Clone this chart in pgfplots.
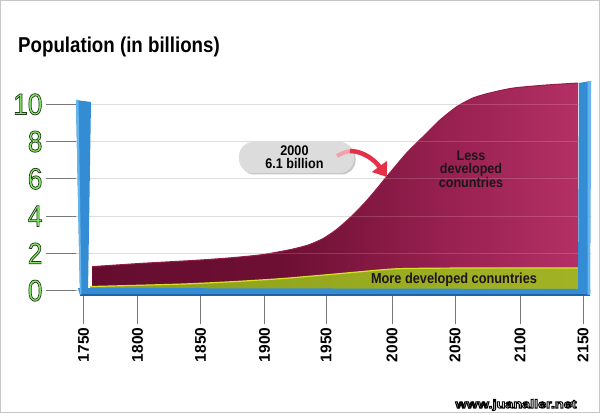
\documentclass[border=0pt]{standalone}
\usepackage{pgfplots}
\pgfplotsset{compat=1.18}
\usepackage{pgfplotstable}
\usepackage{fontspec}
\setmainfont{Liberation Sans}
\usetikzlibrary{arrows.meta}

\definecolor{ygreen}{RGB}{140,235,110}
\definecolor{tickgray}{RGB}{120,120,120}
\definecolor{gridgray}{RGB}{215,215,215}
\definecolor{pillar}{RGB}{52,140,212}
\definecolor{pillarlight}{RGB}{100,180,238}
\definecolor{pillardark}{RGB}{30,98,168}
\definecolor{maroonline}{RGB}{150,28,72}
\definecolor{greentop}{RGB}{215,225,45}
\definecolor{bubble}{RGB}{220,220,220}
\definecolor{arrowred}{RGB}{228,48,72}
\definecolor{labeldark}{RGB}{30,20,25}

\pgfdeclarehorizontalshading{maroonsh}{100bp}{rgb(0bp)=(0.36,0.04,0.16); rgb(45bp)=(0.43,0.06,0.20); rgb(62bp)=(0.60,0.13,0.32); rgb(82bp)=(0.76,0.22,0.43); rgb(100bp)=(0.66,0.13,0.33)}
\pgfdeclarehorizontalshading{greensh}{100bp}{rgb(0bp)=(0.50,0.57,0.08); rgb(60bp)=(0.61,0.68,0.13); rgb(100bp)=(0.67,0.74,0.17)}

% outlined text: #1 stroke width (bp), #2 stroke rgb (0..1 triple), #3 fill colour, #4 text
\newcommand\olt[4]{\textcolor{#3}{\special{pdf:literal direct 2 Tr #1 w #2 RG}#4\special{pdf:literal direct 0 Tr}}}

\pgfplotstableread{
year total
1756.9 1.29
1795.3 1.46
1840.2 1.63
1867.4 1.76
1893.0 1.93
1915.4 2.20
1930.0 2.45
1942.0 2.80
1953.0 3.30
1964.0 3.95
1975.0 4.70
1984.0 5.40
1992.8 6.12
2008.8 7.39
2021.9 8.26
2035.5 9.16
2048.9 9.87
2061.9 10.34
2075.5 10.61
2093.9 10.87
2119.5 11.03
2146.0 11.14
}\lesstable

\pgfplotstableread{
year more
1755.3 0.22
1827.3 0.35
1869.0 0.48
1907.4 0.64
1939.5 0.82
1961.1 0.95
1987.5 1.11
2003.5 1.18
2043.5 1.21
2149.0 1.22
}\moretable

\begin{document}
\begin{tikzpicture}[x=1pt,y=1pt]
\useasboundingbox (0,0) rectangle (600,413);
\fill[white] (0,0) rectangle (600,413);

\begin{axis}[
  at={(76pt,119pt)}, anchor=south west,
  scale only axis, width=515pt, height=194pt,
  xmin=1744, xmax=2156.4, ymin=-0.18, ymax=10.23,
  clip=false,
  axis line style={draw=none},
  xtick={1750,1793.2,1843.7,1894.9,1944.2,1997.1,2047.5,2099.5,2150},
  xticklabels={1750,1800,1850,1900,1950,2000,2050,2100,2150},
  ytick={0,2,4,6,8,10},
  xtick pos=bottom, ytick pos=left,
  tick align=outside, major tick length=30pt,
  tick style={draw=tickgray, line width=0.9pt},
  ymajorgrids, grid style={draw=gridgray, line width=0.7pt},
  /pgf/number format/assume math mode=true,
  xticklabel style={rotate=90, anchor=east, font=\fontsize{15.5}{15.5}\selectfont\bfseries, text=black},
  yticklabel style={font=\fontsize{30}{30}\selectfont},
  yticklabel={\scalebox{0.88}[1]{\olt{0.75}{0.12 0.22 0.10}{ygreen}{\pgfmathprintnumber{\tick}}}},
]
\addplot[draw=none, shade, shading=maroonsh, smooth, tension=0.4] table[x=year,y=total] {\lesstable} \closedcycle;
\addplot[draw=maroonline, line width=1pt, smooth, tension=0.4] table[x=year,y=total] {\lesstable};
\pgfplotsinvokeforeach{2,4,6,8,10}{
  \draw[white, opacity=0.16, line width=0.7pt] (axis cs:1757,#1) -- (axis cs:2146,#1);
}
\addplot[draw=none, shade, shading=greensh, smooth, tension=0.4] table[x=year,y=more] {\moretable} \closedcycle;
\addplot[draw=greentop, line width=1.2pt, smooth, tension=0.4] table[x=year,y=more] {\moretable};
\end{axis}

% base and pillars
\fill[pillar] (78,125) -- (590,124) -- (590,118) -- (80,118) -- cycle;
\fill[pillardark] (80,118.8) -- (590,118.8) -- (590,117.5) -- (80,117.5) -- cycle;
\fill[pillar] (76,313) -- (91,311) -- (88,121) -- (80,118) -- cycle;
\fill[pillarlight] (76,313) -- (78.5,313.3) -- (81.5,120) -- (80,118) -- cycle;
\fill[pillar] (579,330) -- (591,332) -- (590,118) -- (578,120) -- cycle;
\fill[pillarlight] (587.5,331.5) -- (591,332) -- (590,118) -- (587.5,118.5) -- cycle;

% annotation bubble and arrow
\fill[black!22, rounded corners=14pt] (240.5,269) rectangle (355.5,238.5);
\fill[bubble, rounded corners=14pt] (239,271) rectangle (354,240);
\node[align=center, font=\fontsize{14}{12.8}\selectfont\bfseries, inner sep=0pt] at (294.5,255.5)
  {\scalebox{0.9}[1]{2000}\\\scalebox{0.9}[1]{6.1 billion}};
\draw[line width=4pt, arrowred!45!white] (337,257) .. controls (342,260) and (348,262) .. (352,262);
\draw[line width=4.5pt, arrowred, -{Triangle[length=13pt,width=18pt]}] (350,262) .. controls (362,262) and (374,254) .. (387,236);

% area labels
\node[align=center, font=\fontsize{14}{12.6}\selectfont\bfseries, inner sep=0pt, text=labeldark] at (471,243.5)
  {\scalebox{0.9}[1]{Less}\\\scalebox{0.9}[1]{developed}\\\scalebox{0.9}[1]{conuntries}};
\node[font=\fontsize{14.5}{14.5}\selectfont\bfseries, inner sep=0pt, text=labeldark] at (454,133) {\scalebox{0.88}[1]{More developed conuntries}};

% title
\node[anchor=base west, inner sep=0pt, font=\fontsize{21.5}{21.5}\selectfont\bfseries] at (18,360.5) {\scalebox{0.87}[1]{Population (in billions)}};

% watermark
\node[inner sep=0pt, font=\fontsize{12}{12}\selectfont\bfseries] at (516,8) {\scalebox{1.2}[1]{\olt{0.9}{0 0 0}{white}{www.juanaller.net}}};

% frame
\draw[black!22, line width=0.8pt] (0.4,0.4) rectangle (599.6,412.6);
\end{tikzpicture}
\end{document}
